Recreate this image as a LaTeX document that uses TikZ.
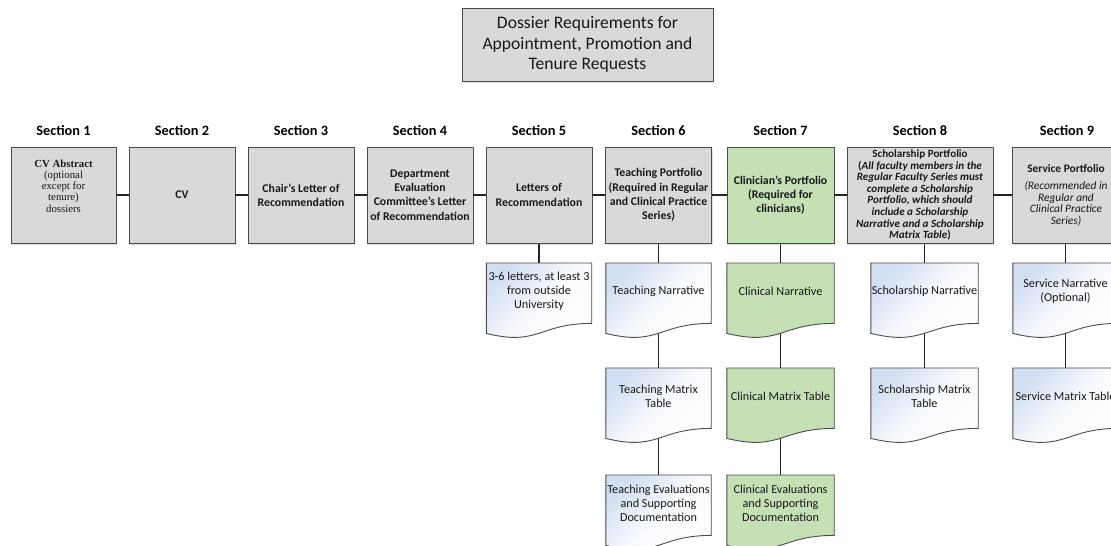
\documentclass[tikz,border=0pt]{standalone}
\usepackage{fontspec}
\setmainfont{Carlito}
\newfontfamily\serifface{Liberation Serif}
\usetikzlibrary{shadows,calc}
\definecolor{boxgray}{RGB}{217,217,217}
\definecolor{edge}{RGB}{75,75,75}
\definecolor{conn}{RGB}{35,35,35}
\definecolor{clin}{RGB}{197,224,180}
\definecolor{docblue}{RGB}{210,222,242}
\definecolor{txt}{RGB}{25,25,25}
\pgfdeclarelayer{lines}
\pgfdeclarelayer{docbg}
\pgfsetlayers{lines,docbg,main}
\tikzset{
  shadowed/.style={drop shadow={shadow xshift=1pt, shadow yshift=-1.5pt, opacity=0.25, fill=gray}},
  secbox/.style={draw=edge, line width=0.9pt, fill=boxgray, minimum width=106pt, minimum height=96pt,
    inner sep=0pt, align=center, text=txt, font=\bfseries\fontsize{11.8}{14.3}\selectfont, shadowed},
  seclabel/.style={font=\bfseries\fontsize{14.3}{16}\selectfont, text=black, inner sep=0pt},
  docnode/.style={minimum width=105pt, minimum height=56pt, inner sep=0pt, anchor=north, align=center,
    text=txt, font=\fontsize{12.2}{13.8}\selectfont},
  docline/.style={draw=edge, line width=0.9pt},
  bluedoc/.style={docline, shading=axis, top color=docblue, bottom color=white, middle color=white!85!docblue, shading angle=45},
  greendoc/.style={docline, fill=clin},
  conline/.style={draw=conn, line width=1.3pt},
}
\newcommand{\docoutline}[2]{%
  \begin{pgfonlayer}{docbg}
  \path[#2] (#1.north west) -- (#1.north east) -- ($(#1.south east)+(0,4)$)
    .. controls ($(#1.south)+(0,4)$) and ($(#1.south)+(0,27)$) .. ($(#1.south west)+(0,14)$) -- cycle;
  \end{pgfonlayer}}
\begin{document}
\begin{tikzpicture}[x=1pt,y=-1pt]
\useasboundingbox (0,0) rectangle (1111,546);

% title
\node[draw=edge, line width=0.9pt, fill=boxgray, minimum width=251pt, minimum height=73pt, inner sep=0pt,
  align=center, text=txt, font=\fontsize{17.6}{20.5}\selectfont, shadowed] (title) at (587.5,44.5)
  {Dossier Requirements for\\Appointment, Promotion and\\Tenure Requests};

% section labels
\node[seclabel] (l1) at (63.5,131) {Section 1};
\node[seclabel] (l2) at (182,131) {Section 2};
\node[seclabel] (l3) at (301,131) {Section 3};
\node[seclabel] (l4) at (420,131) {Section 4};
\node[seclabel] (l5) at (539,131) {Section 5};
\node[seclabel] (l6) at (658.5,131) {Section 6};
\node[seclabel] (l7) at (780.5,131) {Section 7};
\node[seclabel] (l8) at (920,131) {Section 8};
\node[seclabel] (l9) at (1067,131) {Section 9};

% section boxes
\node[secbox, minimum width=105pt] (s1) at (63.5,195) {};
\node[align=center, text=txt, inner sep=0pt, font=\serifface\fontsize{10.8}{11.3}\selectfont] (s1t) at (63.5,186)
  {\textbf{CV Abstract}\\(optional\\except for\\tenure)\\dossiers};
\node[secbox] (s2) at (182,195) {CV};
\node[secbox] (s3) at (301,195) {Chair’s Letter of\\Recommendation};
\node[secbox] (s4) at (420,195) {Department\\Evaluation\\Committee’s Letter\\of Recommendation};
\node[secbox] (s5) at (539,195) {Letters of\\Recommendation};
\node[secbox] (s6) at (658.5,195) {Teaching Portfolio\\(Required in Regular\\and Clinical Practice\\Series)};
\node[secbox, fill=clin, minimum width=107pt] (s7) at (780.5,195) {Clinician’s Portfolio\\(Required for\\clinicians)};
\node[secbox, minimum width=146pt, font=\bfseries\fontsize{11.1}{11.6}\selectfont] (s8) at (920,195)
  {Scholarship Portfolio\\(\textit{All faculty members in the}\\\textit{Regular Faculty Series must}\\\textit{complete a Scholarship}\\\textit{Portfolio, which should}\\\textit{include a Scholarship}\\\textit{Narrative and a Scholarship}\\\textit{Matrix Table})};
\node[secbox, minimum width=108pt, font=\fontsize{11.4}{11.5}\selectfont] (s9) at (1066,195)
  {\textbf{Service Portfolio}\\[6pt]\textit{(Recommended in}\\\textit{Regular and}\\\textit{Clinical Practice}\\\textit{Series)}};

% horizontal connectors
\draw[conline] (s1) -- (s2);
\draw[conline] (s2) -- (s3);
\draw[conline] (s3) -- (s4);
\draw[conline] (s4) -- (s5);
\draw[conline] (s5) -- (s6);
\draw[conline] (s6) -- (s7);
\draw[conline] (s7) -- (s8);
\draw[conline] (s8) -- (s9);

% documents
\node[docnode] (d5a) at (539,263) {3-6 letters, at least 3\\from outside\\University};
\node[docnode] (d6a) at (658.5,263) {Teaching Narrative};
\node[docnode] (d6b) at (658.5,368) {Teaching Matrix\\Table};
\node[docnode] (d6c) at (658.5,475) {Teaching Evaluations\\and Supporting\\Documentation};
\node[docnode, minimum width=107pt] (d7a) at (780.5,263) {Clinical Narrative};
\node[docnode, minimum width=107pt] (d7b) at (780.5,368) {Clinical Matrix Table};
\node[docnode, minimum width=107pt] (d7c) at (780.5,475) {Clinical Evaluations\\and Supporting\\Documentation};
\node[docnode, minimum width=107pt] (d8a) at (924.5,263) {Scholarship Narrative};
\node[docnode, minimum width=107pt] (d8b) at (924.5,368) {Scholarship Matrix\\Table};
\node[docnode] (d9a) at (1065.5,263) {Service Narrative\\(Optional)};
\node[docnode] (d9b) at (1065.5,368) {Service Matrix Table};

\docoutline{d5a}{bluedoc}
\docoutline{d6a}{bluedoc}
\docoutline{d6b}{bluedoc}
\docoutline{d6c}{bluedoc}
\docoutline{d7a}{greendoc}
\docoutline{d7b}{greendoc}
\docoutline{d7c}{greendoc}
\docoutline{d8a}{bluedoc}
\docoutline{d8b}{bluedoc}
\docoutline{d9a}{bluedoc}
\docoutline{d9b}{bluedoc}

% vertical connectors
\begin{pgfonlayer}{lines}
\draw[conline] (s5.south) -- (d5a.north);
\draw[conline] (s6.south) -- (d6a.north);
\draw[conline] (d6a.south) -- (d6b.north);
\draw[conline] (d6b.south) -- (d6c.north);
\draw[conline] (s7.south) -- (d7a.north);
\draw[conline] (d7a.south) -- (d7b.north);
\draw[conline] (d7b.south) -- (d7c.north);
\draw[conline] (d8a.north |- s8.south) -- (d8a.north);
\draw[conline] (d8a.south) -- (d8b.north);
\draw[conline] (d9a.north |- s9.south) -- (d9a.north);
\draw[conline] (d9a.south) -- (d9b.north);
\end{pgfonlayer}
\end{tikzpicture}
\end{document}
